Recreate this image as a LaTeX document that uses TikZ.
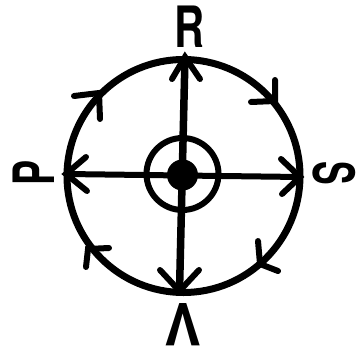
\documentclass[tikz,border=0pt]{standalone}
\usepackage{fontspec}
\setmainfont{TeX Gyre Heros}
\usepackage{graphicx}
\begin{document}
\begin{tikzpicture}[x=1pt,y=-1pt,
  ring/.style={line width=7pt},
  axis/.style={line width=6.5pt},
  barb/.style={line width=6pt, line cap=round, line join=miter},
  letter/.style={inner sep=0pt, font=\bfseries\fontsize{57}{57}\selectfont}]
\useasboundingbox (0,0) rectangle (359,351);
% main circle
\coordinate (c) at (183.5,176);
\draw[ring] (c) circle[radius=116.5];
% axes
\coordinate (top) at (185,57);
\coordinate (bot) at (179.5,291);
\coordinate (lft) at (66,174);
\coordinate (rgt) at (300,177);
\draw[axis, line width=7.5pt] (top) -- (bot);
\draw[axis, line width=6pt] (lft) -- (rgt);
% axis arrowheads
\draw[barb] (172,79) -- (top) -- (200,79);
\draw[barb] (160,270) -- (bot) -- (199,270);
\draw[barb] (86,157) -- (lft) -- (87,191);
\draw[barb] (281,159) -- (rgt) -- (282,194);
% circulation arrowheads (clockwise)
\coordinate (ul) at (99,93);
\coordinate (ur) at (275,101);
\coordinate (lr) at (260,264);
\coordinate (ll) at (88,249);
\draw[barb] (74,96) -- (ul) -- (100,119);
\draw[barb] (275,80) -- (ur) -- (251,102);
\draw[barb] (258,241) -- (lr) -- (278,271);
\draw[barb] (86,267) -- (ll) -- (109,248);
% centre
\coordinate (cc) at (182.5,174);
\draw[line width=6pt] (cc) circle[radius=36];
\fill (182.5,175) circle[radius=15.5];
% labels
\node[letter] (R) at (190,27) {\scalebox{0.73}[1]{R}};
\node[letter, rotate=-90] (S) at (334,173.5) {\scalebox{0.62}[1]{S}};
\node[letter, rotate=90] (P) at (33.5,172.5) {\scalebox{0.66}[1]{P}};
\node[letter, rotate=180] (V) at (183.5,325) {\scalebox{0.96}[1.02]{V}};
\end{tikzpicture}
\end{document}
